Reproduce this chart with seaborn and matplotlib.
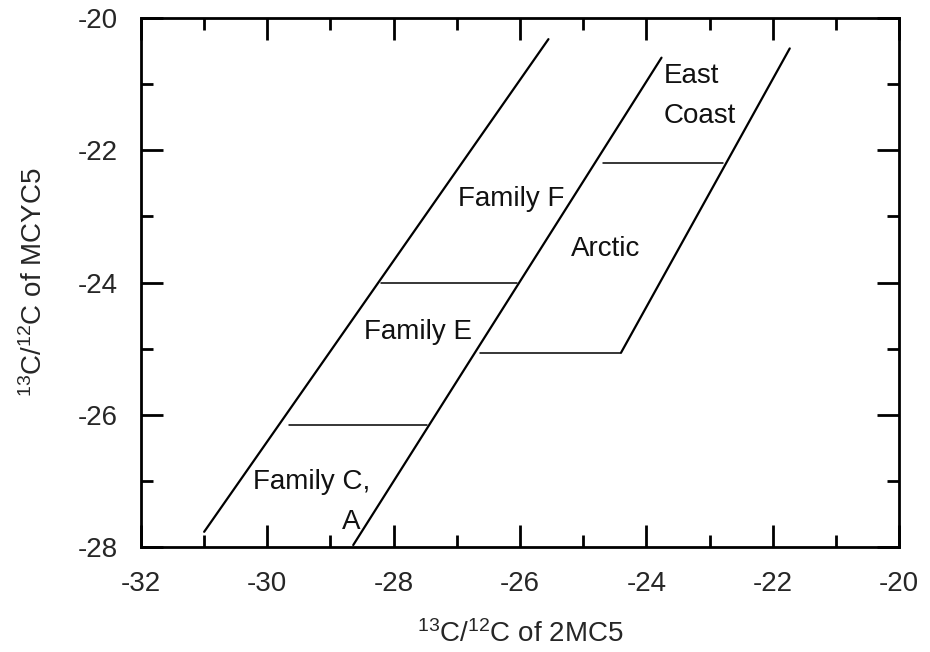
import matplotlib
matplotlib.use("Agg")
import matplotlib.pyplot as plt
import seaborn as sns
import pandas as pd
from matplotlib.ticker import MultipleLocator

# Diagonal boundary lines (start/end points)
diag_x0 = [-31.00, -28.64, -24.40]
diag_y0 = [-27.77, -27.97, -25.06]
diag_x1 = [-25.55, -23.76, -21.73]
diag_y1 = [-20.32, -20.60, -20.46]

# Horizontal divider lines
hor_y = [-26.16, -24.01, -25.06, -22.19]
hor_x0 = [-29.65, -28.20, -26.63, -24.69]
hor_x1 = [-27.47, -26.04, -24.40, -22.78]

# Region labels
lab_text = ["Family F", "Arctic", "Family E", "Family C,", "A"]
lab_x = [-26.14, -24.65, -27.62, -29.30, -28.67]
lab_y = [-22.74, -23.49, -24.75, -27.02, -27.62]
ec_text = ["East", "Coast"]
ec_x = [-23.72, -23.72]
ec_y = [-20.88, -21.48]

xticks = [-32, -30, -28, -26, -24, -22, -20]
yticks = [-28, -26, -24, -22, -20]

sns.set_theme(style="white")
plt.rcParams["font.family"] = ["Liberation Sans", "DejaVu Sans"]
plt.rcParams["mathtext.default"] = "regular"

diag = pd.DataFrame({
    "x": diag_x0 + diag_x1,
    "y": diag_y0 + diag_y1,
    "seg": list(range(3)) * 2,
})
hor = pd.DataFrame({
    "x": hor_x0 + hor_x1,
    "y": hor_y + hor_y,
    "seg": list(range(4)) * 2,
})

fig = plt.figure(figsize=(9.3, 6.52), dpi=100)
ax = fig.add_axes([0.1516, 0.161, 0.8151, 0.8114])

sns.lineplot(data=diag, x="x", y="y", units="seg", estimator=None, sort=False,
             color="black", linewidth=1.6, ax=ax)
sns.lineplot(data=hor, x="x", y="y", units="seg", estimator=None, sort=False,
             color="black", linewidth=1.1, ax=ax)

fs = 20
for t, x, y in zip(lab_text, lab_x, lab_y):
    ax.text(x, y, t, ha="center", va="center", fontsize=fs, color="#111111")
for t, x, y in zip(ec_text, ec_x, ec_y):
    ax.text(x, y, t, ha="left", va="center", fontsize=fs, color="#111111")

ax.set_xlim(-32, -20)
ax.set_ylim(-28, -20)
ax.set_xticks(xticks)
ax.set_yticks(yticks)
ax.set_xticklabels([str(v) for v in xticks])
ax.set_yticklabels([str(v) for v in yticks])
ax.xaxis.set_minor_locator(MultipleLocator(1))
ax.yaxis.set_minor_locator(MultipleLocator(1))
ax.tick_params(which="both", direction="in", top=True, right=True,
               bottom=True, left=True, width=2, color="black")
ax.tick_params(which="major", length=16, labelsize=fs, pad=17)
ax.tick_params(which="minor", length=8.5)

for s in ax.spines.values():
    s.set_visible(True)
    s.set_color("black")
    s.set_linewidth(2)

ax.set_xlabel(r"$^{13}$C/$^{12}$C of 2MC5", fontsize=fs, labelpad=17)
ax.set_ylabel(r"$^{13}$C/$^{12}$C of MCYC5", fontsize=fs, labelpad=21)

fig.savefig("out.png", dpi=100, facecolor="white")
